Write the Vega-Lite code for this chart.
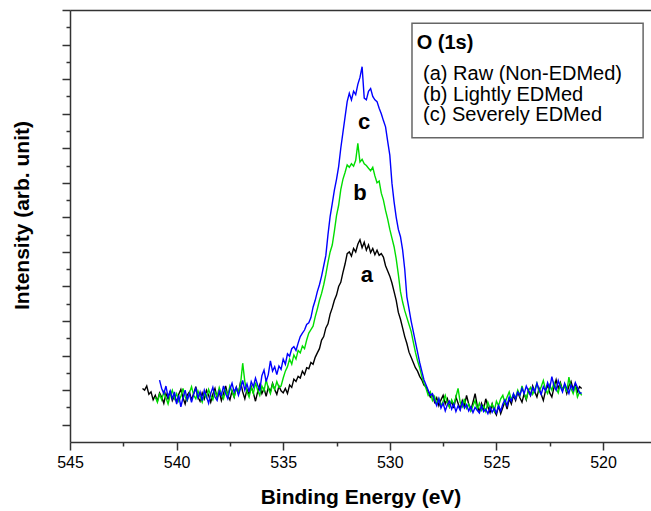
{
"$schema": "https://vega.github.io/schema/vega-lite/v6.json",
"width": 581, "height": 432,
"autosize": {"type": "none"},
"padding": {"left": 70, "top": 10, "right": 0, "bottom": 69},
"background": "white",
"config": {"view": {"stroke": null}, "font": "Liberation Sans"},
"resolve": {"axis": {"x": "independent", "y": "independent"}},
"datasets": {
"spectra": [
{"x":541.6,"a":1.55,"b":null,"c":null},{"x":541.5,"a":1.50,"b":null,"c":null},{"x":541.4,"a":1.62,"b":null,"c":null},{"x":541.3,"a":1.38,"b":null,"c":null},{"x":541.2,"a":1.45,"b":null,"c":null},{"x":541.1,"a":1.22,"b":null,"c":null},
{"x":541.0,"a":1.35,"b":1.30,"c":null},{"x":540.9,"a":1.18,"b":1.15,"c":null},{"x":540.8,"a":1.42,"b":1.38,"c":1.79},{"x":540.7,"a":1.30,"b":1.22,"c":1.55},{"x":540.6,"a":1.12,"b":1.45,"c":1.40},{"x":540.5,"a":1.40,"b":1.28,"c":1.62},{"x":540.4,"a":1.25,"b":1.10,"c":1.30},{"x":540.3,"a":1.48,"b":1.35,"c":1.48},{"x":540.2,"a":1.20,"b":1.50,"c":1.25},{"x":540.1,"a":1.33,"b":1.25,"c":1.45},
{"x":540.0,"a":1.15,"b":1.40,"c":1.10},{"x":539.9,"a":1.38,"b":1.18,"c":1.35},{"x":539.8,"a":1.52,"b":1.32,"c":1.02},{"x":539.7,"a":1.28,"b":1.55,"c":1.28},{"x":539.6,"a":1.10,"b":1.30,"c":1.50},{"x":539.5,"a":1.36,"b":1.20,"c":1.22},{"x":539.4,"a":1.45,"b":1.42,"c":1.40},{"x":539.3,"a":1.22,"b":1.60,"c":1.15},{"x":539.2,"a":1.40,"b":1.35,"c":1.38},{"x":539.1,"a":1.60,"b":1.25,"c":1.55},
{"x":539.0,"a":1.30,"b":1.48,"c":1.28},{"x":538.9,"a":1.18,"b":1.30,"c":1.45},{"x":538.8,"a":1.42,"b":1.15,"c":1.20},{"x":538.7,"a":1.25,"b":1.40,"c":1.50},{"x":538.6,"a":1.50,"b":1.28,"c":1.32},{"x":538.5,"a":1.35,"b":1.52,"c":1.12},{"x":538.4,"a":1.15,"b":1.35,"c":1.40},{"x":538.3,"a":1.38,"b":1.22,"c":1.58},{"x":538.2,"a":1.55,"b":1.45,"c":1.30},{"x":538.1,"a":1.28,"b":1.32,"c":1.20},
{"x":538.0,"a":1.45,"b":1.58,"c":1.48},{"x":537.9,"a":1.20,"b":1.40,"c":1.35},{"x":537.8,"a":1.40,"b":1.25,"c":1.62},{"x":537.7,"a":1.62,"b":1.50,"c":1.40},{"x":537.6,"a":1.35,"b":1.35,"c":1.25},{"x":537.5,"a":1.22,"b":1.62,"c":1.52},{"x":537.4,"a":1.48,"b":1.45,"c":1.70},{"x":537.3,"a":1.30,"b":1.30,"c":1.45},{"x":537.2,"a":1.58,"b":1.55,"c":1.58},{"x":537.1,"a":1.40,"b":1.42,"c":1.35},
{"x":537.0,"a":1.75,"b":1.68,"c":1.55},{"x":536.9,"a":1.45,"b":2.28,"c":1.78},{"x":536.8,"a":1.25,"b":1.75,"c":1.50},{"x":536.7,"a":1.52,"b":1.45,"c":1.68},{"x":536.6,"a":1.38,"b":1.30,"c":1.45},{"x":536.5,"a":1.60,"b":1.58,"c":1.75},{"x":536.4,"a":1.42,"b":1.40,"c":1.60},{"x":536.3,"a":1.18,"b":1.72,"c":1.85},{"x":536.2,"a":1.45,"b":1.50,"c":1.65},{"x":536.1,"a":1.65,"b":1.35,"c":1.50},
{"x":536.0,"a":1.40,"b":1.62,"c":1.92},{"x":535.9,"a":1.55,"b":1.48,"c":2.08},{"x":535.8,"a":1.32,"b":1.80,"c":1.75},{"x":535.7,"a":1.58,"b":1.55,"c":1.95},{"x":535.6,"a":1.45,"b":1.40,"c":2.35},{"x":535.5,"a":1.70,"b":1.68,"c":2.05},{"x":535.4,"a":1.52,"b":1.52,"c":2.18},{"x":535.3,"a":1.38,"b":1.75,"c":1.95},{"x":535.2,"a":1.62,"b":1.58,"c":2.20},{"x":535.1,"a":1.48,"b":1.62,"c":2.10},
{"x":535.0,"a":1.42,"b":1.85,"c":2.40},{"x":534.9,"a":1.55,"b":2.05,"c":2.25},{"x":534.8,"a":1.40,"b":2.18,"c":2.55},{"x":534.7,"a":1.65,"b":2.40,"c":2.48},{"x":534.6,"a":1.58,"b":2.25,"c":2.70},{"x":534.5,"a":1.82,"b":2.52,"c":2.76},{"x":534.4,"a":1.75,"b":2.40,"c":2.65},{"x":534.3,"a":1.90,"b":2.65,"c":2.86},{"x":534.2,"a":1.85,"b":2.58,"c":3.05},{"x":534.1,"a":2.05,"b":2.78,"c":3.15},
{"x":534.0,"a":1.95,"b":2.70,"c":3.24},{"x":533.9,"a":2.15,"b":2.95,"c":3.40},{"x":533.8,"a":2.12,"b":3.15,"c":3.45},{"x":533.7,"a":2.30,"b":3.25,"c":3.60},{"x":533.6,"a":2.25,"b":3.35,"c":3.90},{"x":533.5,"a":2.45,"b":3.62,"c":4.10},{"x":533.4,"a":2.58,"b":3.85,"c":4.35},{"x":533.3,"a":2.70,"b":4.10,"c":4.55},{"x":533.2,"a":2.95,"b":4.30,"c":4.80},{"x":533.1,"a":3.05,"b":4.55,"c":5.10},
{"x":533.0,"a":3.30,"b":4.85,"c":5.40},{"x":532.9,"a":3.42,"b":5.20,"c":6.00},{"x":532.8,"a":3.70,"b":5.50,"c":6.52},{"x":532.7,"a":3.88,"b":5.70,"c":6.90},{"x":532.6,"a":4.10,"b":6.10,"c":7.29},{"x":532.5,"a":4.25,"b":6.55,"c":7.60},{"x":532.4,"a":4.50,"b":6.85,"c":7.97},{"x":532.3,"a":4.62,"b":7.30,"c":8.50},{"x":532.2,"a":4.90,"b":7.60,"c":8.95},{"x":532.1,"a":5.15,"b":7.80,"c":9.40},
{"x":532.0,"a":5.45,"b":8.02,"c":9.85},{"x":531.9,"a":5.50,"b":7.95,"c":10.09},{"x":531.8,"a":5.38,"b":8.05,"c":9.90},{"x":531.7,"a":5.60,"b":7.98,"c":10.15},{"x":531.6,"a":5.50,"b":8.15,"c":10.05},{"x":531.5,"a":5.72,"b":8.64,"c":10.35},{"x":531.4,"a":5.85,"b":8.10,"c":10.55},{"x":531.3,"a":5.62,"b":8.18,"c":10.86},{"x":531.2,"a":5.78,"b":8.05,"c":9.95},{"x":531.1,"a":5.55,"b":8.00,"c":9.90},
{"x":531.0,"a":5.70,"b":7.92,"c":10.15},{"x":530.9,"a":5.48,"b":7.85,"c":10.23},{"x":530.8,"a":5.60,"b":7.95,"c":10.00},{"x":530.7,"a":5.42,"b":7.70,"c":9.90},{"x":530.6,"a":5.55,"b":7.50,"c":9.85},{"x":530.5,"a":5.40,"b":7.55,"c":9.66},{"x":530.4,"a":5.45,"b":7.20,"c":9.50},{"x":530.3,"a":5.35,"b":7.00,"c":9.30},{"x":530.2,"a":5.10,"b":6.70,"c":9.12},{"x":530.1,"a":4.95,"b":6.45,"c":8.70},
{"x":530.0,"a":4.80,"b":6.15,"c":8.30},{"x":529.9,"a":4.60,"b":5.90,"c":7.49},{"x":529.8,"a":4.35,"b":5.65,"c":6.95},{"x":529.7,"a":4.10,"b":5.30,"c":6.50},{"x":529.6,"a":3.75,"b":4.85,"c":6.15},{"x":529.5,"a":3.55,"b":4.35,"c":5.94},{"x":529.4,"a":3.30,"b":4.05,"c":5.56},{"x":529.3,"a":3.05,"b":3.80,"c":5.00},{"x":529.2,"a":2.85,"b":3.60,"c":4.20},{"x":529.1,"a":2.60,"b":3.40,"c":3.85},
{"x":529.0,"a":2.45,"b":3.20,"c":3.50},{"x":528.9,"a":2.30,"b":2.90,"c":3.20},{"x":528.8,"a":2.15,"b":2.60,"c":2.90},{"x":528.7,"a":2.05,"b":2.35,"c":2.60},{"x":528.6,"a":1.90,"b":2.15,"c":2.30},{"x":528.5,"a":1.80,"b":1.90,"c":2.05},{"x":528.4,"a":1.65,"b":1.70,"c":1.80},{"x":528.3,"a":1.60,"b":1.55,"c":1.65},{"x":528.2,"a":1.45,"b":1.35,"c":1.50},{"x":528.1,"a":1.30,"b":1.45,"c":1.35},
{"x":528.0,"a":1.38,"b":1.20,"c":1.40},{"x":527.9,"a":1.15,"b":1.32,"c":1.20},{"x":527.8,"a":1.28,"b":1.10,"c":1.05},{"x":527.7,"a":1.05,"b":1.25,"c":1.25},{"x":527.6,"a":1.22,"b":1.05,"c":0.98},{"x":527.5,"a":1.35,"b":1.18,"c":1.12},{"x":527.4,"a":1.10,"b":1.35,"c":0.90},{"x":527.3,"a":1.25,"b":1.12,"c":1.08},{"x":527.2,"a":1.02,"b":1.00,"c":1.18},{"x":527.1,"a":1.18,"b":1.22,"c":0.95},
{"x":527.0,"a":0.98,"b":1.08,"c":1.10},{"x":526.9,"a":1.30,"b":1.30,"c":0.88},{"x":526.8,"a":1.12,"b":1.55,"c":1.05},{"x":526.7,"a":0.95,"b":1.15,"c":0.92},{"x":526.6,"a":1.20,"b":1.02,"c":1.15},{"x":526.5,"a":1.05,"b":1.25,"c":0.98},{"x":526.4,"a":1.35,"b":0.98,"c":1.08},{"x":526.3,"a":1.10,"b":1.10,"c":0.90},{"x":526.2,"a":0.92,"b":0.90,"c":1.02},{"x":526.1,"a":1.15,"b":1.05,"c":0.85},
{"x":526.0,"a":1.40,"b":1.20,"c":1.00},{"x":525.9,"a":1.05,"b":0.95,"c":0.92},{"x":525.8,"a":0.88,"b":1.12,"c":0.84},{"x":525.7,"a":1.12,"b":0.92,"c":1.05},{"x":525.6,"a":0.95,"b":1.05,"c":0.88},{"x":525.5,"a":1.25,"b":0.88,"c":0.95},{"x":525.4,"a":1.02,"b":1.15,"c":0.82},{"x":525.3,"a":0.85,"b":0.98,"c":1.00},{"x":525.2,"a":1.10,"b":1.10,"c":0.86},{"x":525.1,"a":0.90,"b":0.90,"c":0.98},
{"x":525.0,"a":0.78,"b":1.18,"c":0.84},{"x":524.9,"a":1.05,"b":1.05,"c":1.05},{"x":524.8,"a":0.82,"b":1.25,"c":0.90},{"x":524.7,"a":1.00,"b":1.35,"c":1.10},{"x":524.6,"a":1.18,"b":1.12,"c":1.22},{"x":524.5,"a":0.95,"b":1.30,"c":1.05},{"x":524.4,"a":1.25,"b":1.45,"c":1.30},{"x":524.3,"a":1.10,"b":1.22,"c":1.18},{"x":524.2,"a":1.35,"b":1.38,"c":1.40},{"x":524.1,"a":1.20,"b":1.28,"c":1.25},
{"x":524.0,"a":1.45,"b":1.50,"c":1.45},{"x":523.9,"a":1.28,"b":1.35,"c":1.35},{"x":523.8,"a":1.15,"b":1.62,"c":1.55},{"x":523.7,"a":1.40,"b":1.40,"c":1.40},{"x":523.6,"a":1.22,"b":1.25,"c":1.62},{"x":523.5,"a":1.50,"b":1.48,"c":1.48},{"x":523.4,"a":1.35,"b":1.58,"c":1.35},{"x":523.3,"a":1.62,"b":1.38,"c":1.58},{"x":523.2,"a":1.45,"b":1.52,"c":1.45},{"x":523.1,"a":1.30,"b":1.70,"c":1.70},
{"x":523.0,"a":1.55,"b":1.45,"c":1.52},{"x":522.9,"a":1.38,"b":1.60,"c":1.38},{"x":522.8,"a":1.20,"b":1.78,"c":1.60},{"x":522.7,"a":1.48,"b":1.52,"c":1.48},{"x":522.6,"a":1.65,"b":1.40,"c":1.72},{"x":522.5,"a":1.42,"b":1.65,"c":1.55},{"x":522.4,"a":1.30,"b":1.50,"c":1.89},{"x":522.3,"a":1.58,"b":1.72,"c":1.62},{"x":522.2,"a":1.80,"b":1.55,"c":1.50},{"x":522.1,"a":1.55,"b":1.42,"c":1.78},
{"x":522.0,"a":1.72,"b":1.68,"c":1.60},{"x":521.9,"a":1.50,"b":1.50,"c":1.45},{"x":521.8,"a":1.65,"b":1.62,"c":1.70},{"x":521.7,"a":1.40,"b":1.45,"c":1.55},{"x":521.6,"a":1.62,"b":1.88,"c":1.40},{"x":521.5,"a":1.75,"b":1.55,"c":1.65},{"x":521.4,"a":1.52,"b":1.40,"c":1.50},{"x":521.3,"a":1.68,"b":1.62,"c":1.72},{"x":521.2,"a":1.45,"b":1.30,"c":1.58},{"x":521.1,"a":1.60,"b":1.45,"c":1.42},
{"x":521.0,"a":1.55,"b":1.35,"c":1.42}
],
"legendbox": [{"x1": 528.96, "x2": 518.12, "y1": 12.12, "y2": 8.80}],
"legendtitle": [{"tx": 528.74, "ty": 11.545, "label": "O (1s)"}],
"legendlines": [
{"tx": 528.44, "ty": 10.65, "label": "(a) Raw (Non-EDMed)"},
{"tx": 528.44, "ty": 10.04, "label": "(b) Lightly EDMed"},
{"tx": 528.44, "ty": 9.46, "label": "(c) Severely EDMed"}
],
"peaklabels": [
{"tx": 531.21, "ty": 9.27, "label": "c"},
{"tx": 531.40, "ty": 7.20, "label": "b"},
{"tx": 531.08, "ty": 4.83, "label": "a"}
]
},
"layer": [
{
"data": {"name": "spectra"},
"transform": [{"fold": ["a", "b", "c"], "as": ["series", "intensity"]}],
"mark": {"type": "line", "strokeWidth": 1.4, "clip": true},
"encoding": {
"x": {"field": "x", "type": "quantitative",
 "scale": {"domain": [517.75, 545], "reverse": true, "nice": false, "zero": false},
 "axis": {"orient": "bottom", "values": [545, 540, 535, 530, 525, 520], "grid": false, "tickSize": 8, "tickWidth": 1.5, "tickColor": "#333", "domainColor": "#333", "domainWidth": 1.5, "labelFontSize": 16, "labelColor": "#000", "labelPadding": 4, "labelFlush": false, "labelOverlap": false, "title": "Binding Energy (eV)", "titleFontSize": 21, "titleFontWeight": "bold", "titleColor": "#000", "titlePadding": 16}},
"y": {"field": "intensity", "type": "quantitative",
 "scale": {"domain": [0, 12.5], "nice": false, "zero": false},
 "axis": {"orient": "left", "values": [0.5, 1.5, 2.5, 3.5, 4.5, 5.5, 6.5, 7.5, 8.5, 9.5, 10.5, 11.5, 12.5], "grid": false, "labels": false, "tickSize": 8, "tickWidth": 1.5, "tickColor": "#333", "domainColor": "#333", "domainWidth": 1.5, "title": "Intensity (arb. unit)", "titleFontSize": 21, "titleFontWeight": "bold", "titleColor": "#000", "titleX": -48, "titleY": 205, "titleBaseline": "middle", "titleAngle": 270}},
"color": {"field": "series", "type": "nominal", "scale": {"domain": ["a", "b", "c"], "range": ["#000000", "#00dd00", "#0000ff"]}, "legend": null}
}
},
{
"data": {"name": "legendbox"},
"mark": {"type": "rect", "fill": "white", "stroke": "#666", "strokeWidth": 1.5},
"encoding": {
"x": {"field": "x1", "type": "quantitative", "axis": {"orient": "bottom", "values": [542.5, 537.5, 532.5, 527.5, 522.5], "grid": false, "labels": false, "domain": false, "tickSize": 4, "tickWidth": 1.5, "tickColor": "#333", "title": null}},
"x2": {"field": "x2"},
"y": {"field": "y1", "type": "quantitative", "axis": {"orient": "left", "values": [1, 2, 3, 4, 5, 6, 7, 8, 9, 10, 11, 12], "grid": false, "labels": false, "domain": false, "tickSize": 4, "tickWidth": 1.5, "tickColor": "#333", "title": null}},
"y2": {"field": "y2"}
}
},
{
"data": {"name": "legendtitle"},
"mark": {"type": "text", "align": "left", "baseline": "middle", "fontSize": 20, "fontWeight": "bold", "color": "#000", "font": "Liberation Sans"},
"encoding": {
"x": {"field": "tx", "type": "quantitative", "axis": {"orient": "top", "grid": false, "ticks": false, "labels": false, "domain": true, "domainColor": "#333", "domainWidth": 1.5, "title": null}},
"y": {"field": "ty", "type": "quantitative", "axis": null},
"text": {"field": "label"}
}
},
{
"data": {"name": "legendlines"},
"mark": {"type": "text", "align": "left", "baseline": "middle", "fontSize": 20, "color": "#000", "font": "Liberation Sans"},
"encoding": {
"x": {"field": "tx", "type": "quantitative", "axis": null},
"y": {"field": "ty", "type": "quantitative", "axis": null},
"text": {"field": "label"}
}
},
{
"data": {"name": "peaklabels"},
"mark": {"type": "text", "align": "center", "baseline": "middle", "fontSize": 22, "fontWeight": "bold", "color": "#000", "font": "Liberation Sans"},
"encoding": {
"x": {"field": "tx", "type": "quantitative", "axis": null},
"y": {"field": "ty", "type": "quantitative", "axis": null},
"text": {"field": "label"}
}
}
]
}
